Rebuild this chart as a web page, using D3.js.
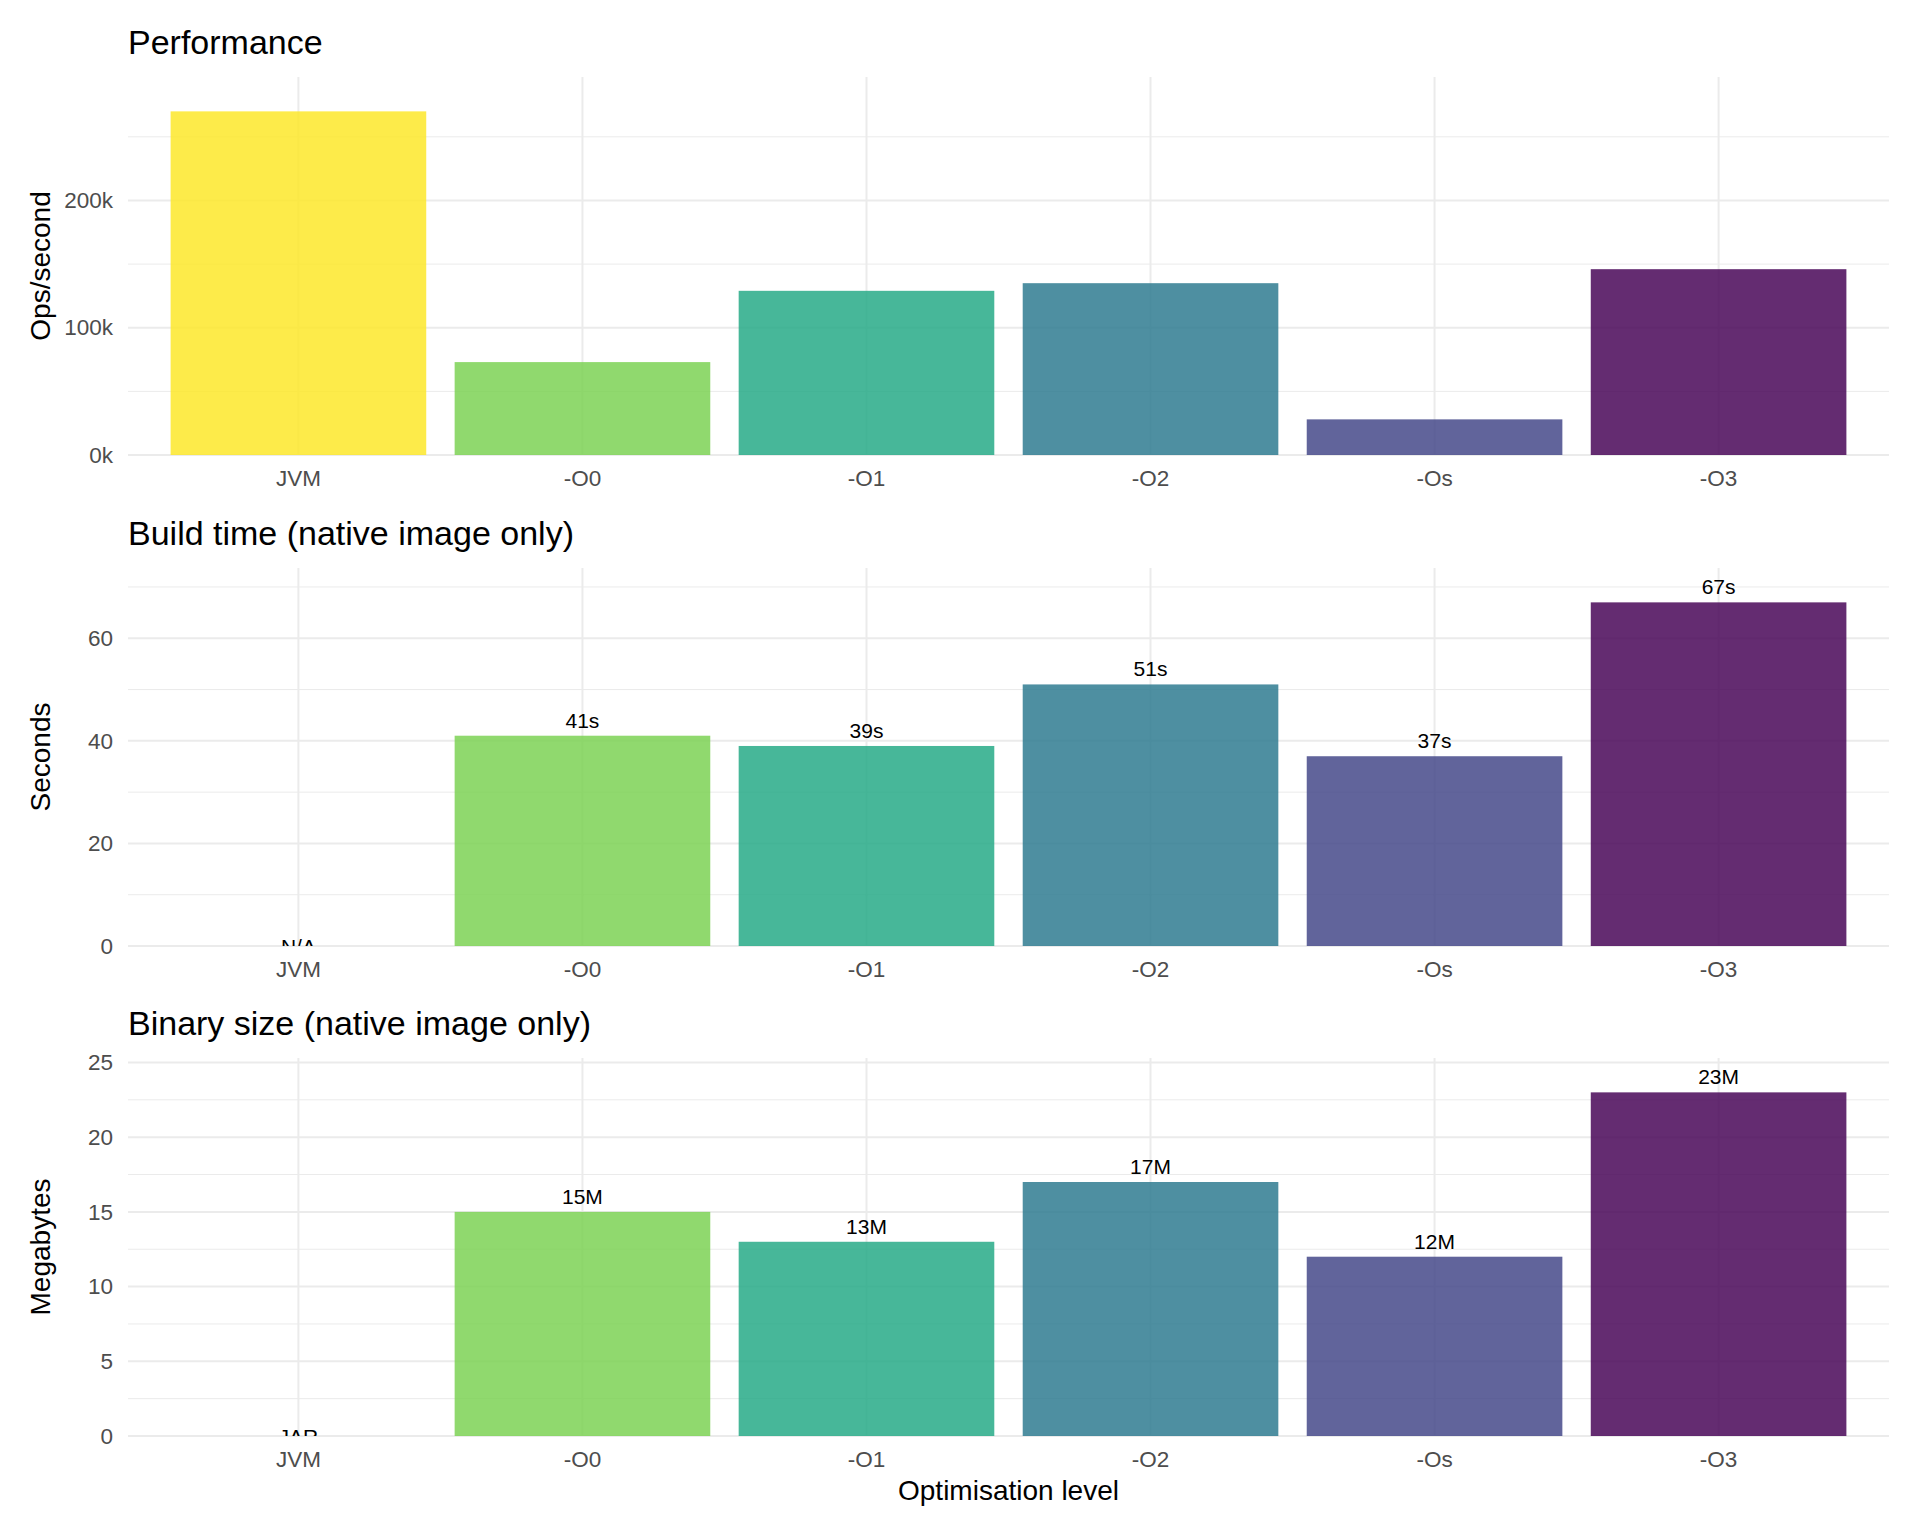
<!DOCTYPE html>
<html>
<head>
<meta charset="utf-8">
<script src="https://cdn.jsdelivr.net/npm/d3@7"></script>
<style>
	body { margin: 0; background: #fff; }
	svg { display: block; font-family: "Liberation Sans", Arial, Helvetica, sans-serif; }
	.grid-major { stroke: #ebebeb; stroke-width: 2; }
	.grid-minor { stroke: #ebebeb; stroke-width: 1; }
	.tick text { fill: #4d4d4d; font-size: 22.5px; }
	.panel-title { font-size: 34px; fill: #000; }
	.axis-title { font-size: 28px; fill: #000; }
	.bar-label { font-size: 21px; fill: #000; }
</style>
</head>
<body>
<svg id="chart" width="1920" height="1536"></svg>
<script>

//------------------------------------------------------------------------------
// Data

var levels = ['JVM', '-O0', '-O1', '-O2', '-Os', '-O3'];
var colours = ['#fde725', '#7ad151', '#22a884', '#2a788e', '#414487', '#440154'];

var opsPerSecond = [270000, 73000, 129000, 135000, 28000, 146000];
var buildSeconds = [0, 41, 39, 51, 37, 67];
var binaryMegabytes = [0, 15, 13, 17, 12, 23];

var buildLabels = ['N/A', '41s', '39s', '51s', '37s', '67s'];
var binaryLabels = ['JAR', '15M', '13M', '17M', '12M', '23M'];

var opsTicks = [0, 100000, 200000];
var buildTicks = [0, 20, 40, 60];
var binaryTicks = [0, 5, 10, 15, 20, 25];

//------------------------------------------------------------------------------
// Layout

var svg = d3.select('#chart');
var left = 128, right = 1889;

var x = d3.scaleBand()
	.domain(levels)
	.range([left, right])
	.paddingInner(0.1)
	.paddingOuter(0.15);

function panel(opt)
{
	var g = svg.append('g');
	var top = opt.top, bottom = opt.top + 378;
	var y = d3.scaleLinear()
		.domain([0, d3.max(opt.values) * 1.1])
		.range([bottom, top]);

	// gridlines
	var ticks = opt.ticks;
	var step = ticks[1] - ticks[0];
	var minor = d3.range(step / 2, y.domain()[1], step);
	g.selectAll('.grid-minor').data(minor).enter().append('line')
		.attr('class', 'grid-minor')
		.attr('x1', left).attr('x2', right)
		.attr('y1', y).attr('y2', y);
	g.selectAll('.grid-major.h').data(ticks).enter().append('line')
		.attr('class', 'grid-major h')
		.attr('x1', left).attr('x2', right)
		.attr('y1', y).attr('y2', y);
	g.selectAll('.grid-major.v').data(levels).enter().append('line')
		.attr('class', 'grid-major v')
		.attr('x1', function (d) { return x(d) + x.bandwidth() / 2; })
		.attr('x2', function (d) { return x(d) + x.bandwidth() / 2; })
		.attr('y1', top).attr('y2', bottom);

	// bars
	var data = levels.map(function (d, i) {
		return { level: d, value: opt.values[i], colour: colours[i], label: opt.labels ? opt.labels[i] : null };
	});
	g.selectAll('rect').data(data).enter().append('rect')
		.attr('x', function (d) { return x(d.level); })
		.attr('width', x.bandwidth())
		.attr('y', function (d) { return y(d.value); })
		.attr('height', function (d) { return y(0) - y(d.value); })
		.attr('fill', function (d) { return d.colour; })
		.attr('fill-opacity', 0.83);

	// value labels, clipped to the panel
	if (opt.labels)
	{
		var clipId = 'clip' + top;
		svg.append('clipPath').attr('id', clipId)
			.append('rect')
			.attr('x', left).attr('y', top)
			.attr('width', right - left).attr('height', bottom - top);
		g.append('g').attr('clip-path', 'url(#' + clipId + ')')
			.selectAll('text').data(data).enter().append('text')
			.attr('class', 'bar-label')
			.attr('text-anchor', 'middle')
			.attr('x', function (d) { return x(d.level) + x.bandwidth() / 2; })
			.attr('y', function (d) { return d.value ? y(d.value) - 8 : y(0) + 8; })
			.text(function (d) { return d.label; });
	}

	// axes
	var yAxis = g.append('g')
		.attr('transform', 'translate(' + left + ',0)')
		.call(d3.axisLeft(y).tickValues(ticks).tickSize(0).tickPadding(15).tickFormat(opt.format));
	yAxis.select('.domain').remove();

	var xAxis = g.append('g')
		.attr('transform', 'translate(0,' + bottom + ')')
		.call(d3.axisBottom(x).tickSize(0).tickPadding(15));
	xAxis.select('.domain').remove();

	svg.selectAll('.tick text').attr('font-family', null).attr('font-size', null);

	// titles
	g.append('text')
		.attr('class', 'panel-title')
		.attr('x', left).attr('y', top - 23)
		.text(opt.title);
	g.append('text')
		.attr('class', 'axis-title')
		.attr('text-anchor', 'middle')
		.attr('transform', 'translate(50,' + (top + bottom) / 2 + ') rotate(-90)')
		.text(opt.ylabel);
}

//------------------------------------------------------------------------------
// Panels

panel({
	top: 77,
	title: 'Performance',
	ylabel: 'Ops/second',
	values: opsPerSecond,
	ticks: opsTicks,
	format: function (d) { return d / 1000 + 'k'; }
});

panel({
	top: 568,
	title: 'Build time (native image only)',
	ylabel: 'Seconds',
	values: buildSeconds,
	labels: buildLabels,
	ticks: buildTicks,
	format: d3.format('d')
});

panel({
	top: 1058,
	title: 'Binary size (native image only)',
	ylabel: 'Megabytes',
	values: binaryMegabytes,
	labels: binaryLabels,
	ticks: binaryTicks,
	format: d3.format('d')
});

svg.append('text')
	.attr('class', 'axis-title')
	.attr('text-anchor', 'middle')
	.attr('x', (left + right) / 2)
	.attr('y', 1500)
	.text('Optimisation level');

</script>
</body>
</html>
